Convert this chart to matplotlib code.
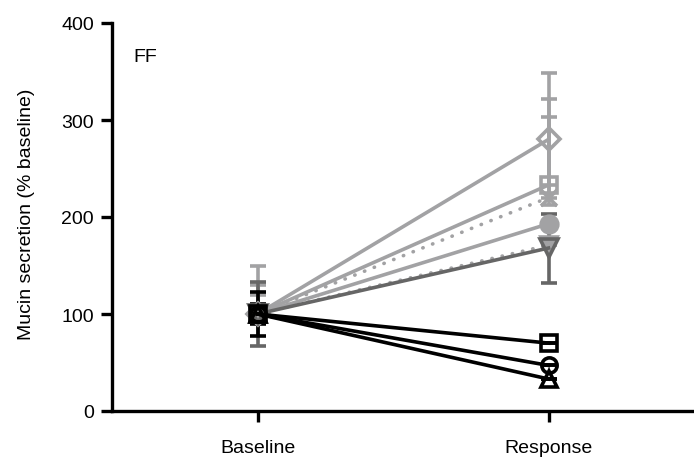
import matplotlib
matplotlib.use("Agg")
import matplotlib.pyplot as plt
import numpy as np

plt.rcParams['font.family'] = ['Liberation Sans', 'DejaVu Sans']

categories = ["Baseline", "Response"]
panel_label = "FF"
y_label = "Mucin secretion (% baseline)"
y_ticks = [0, 100, 200, 300, 400]

# series: baseline / response means
diamond_vals = [100, 280]
square_gray_vals = [100, 233]
cross_vals = [100, 220]
circle_gray_vals = [100, 193]
dotted_tri_vals = [100, 171]
tri_dark_vals = [100, 168]
square_black_vals = [100, 70]
circle_black_vals = [100, 47]
tri_black_vals = [100, 33]

# error bars (lower, upper) at baseline and response
diamond_err = [[0, 68], [50, 68]]
square_gray_err = [[0, 0], [30, 89]]
cross_err = [[0, 0], [20, 83]]
circle_gray_err = [[0, 0], [0, 0]]
dotted_tri_err = [[0, 0], [0, 0]]
tri_dark_err = [[33, 36], [33, 35]]
square_black_err = [[23, 0], [23, 0]]
circle_black_err = [[10, 0], [10, 0]]
tri_black_err = [[8, 0], [8, 0]]

LG = '#a2a2a4'
DG = '#666666'
BK = '#000000'

series = [
    (diamond_vals, diamond_err, 'D', LG, 'none', '-', 11),
    (square_gray_vals, square_gray_err, 's', LG, 'none', '-', 12),
    (cross_vals, cross_err, 'x', LG, LG, 'dot', 11),
    (dotted_tri_vals, dotted_tri_err, 'v', LG, LG, 'dot', 12),
    (circle_gray_vals, circle_gray_err, 'o', LG, LG, '-', 12),
    (tri_dark_vals, tri_dark_err, 'v', DG, 'none', '-', 13),
    (tri_black_vals, tri_black_err, '^', BK, 'none', '-', 12),
    (circle_black_vals, circle_black_err, 'o', BK, 'none', '-', 11),
    (square_black_vals, square_black_err, 's', BK, 'none', '-', 12),
]

fig = plt.figure(figsize=(6.94, 4.60), dpi=100)
ax = fig.add_axes([112/694, 48/460, 582/694, (412-24)/460])

x = np.arange(len(categories))
for vals, err, mk, col, fc, ls, ms in series:
    linestyle = (0, (0.1, 2.8)) if ls == 'dot' else '-'
    line, caps, bars = ax.errorbar(
        x, vals, yerr=err, color=col, ecolor=col, elinewidth=2.6,
        capsize=6, capthick=2.6, marker=mk, markersize=ms,
        markerfacecolor=fc, markeredgecolor=col, markeredgewidth=2.6,
        linewidth=2.6, linestyle=linestyle)
    line.set_dash_capstyle('round')

ax.set_xlim(-0.5, 1.5)
ax.set_ylim(0, 400)
ax.set_xticks(x)
ax.set_xticklabels(categories)
ax.set_yticks(y_ticks)

for s in ['top', 'right']:
    ax.spines[s].set_visible(False)
for s in ['left', 'bottom']:
    ax.spines[s].set_linewidth(2.4)
ax.tick_params(axis='both', width=2.4, length=8, labelsize=14, colors='black')
ax.tick_params(axis='y', pad=5)
ax.tick_params(axis='x', pad=12)

ax.text(133/694, (460-62)/460, panel_label, transform=fig.transFigure,
        fontsize=14, ha='left', va='baseline')
fig.text(27/694, 0.535, y_label, rotation=90, ha='center', va='center',
         fontsize=14)

fig.savefig("out.png", dpi=100)
